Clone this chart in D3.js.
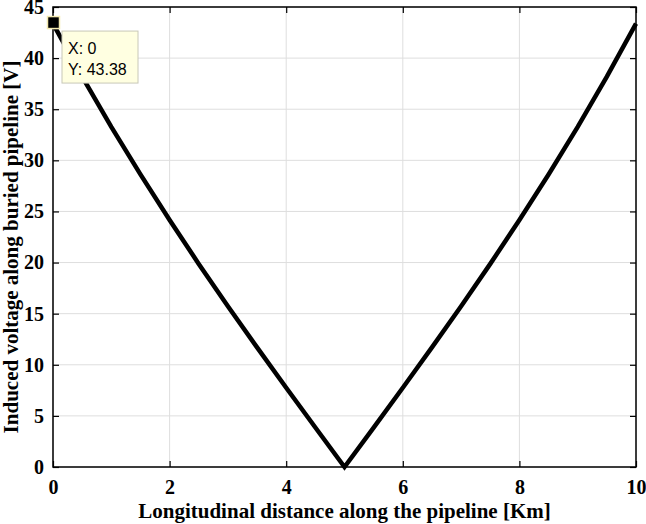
<!DOCTYPE html>
<html>
<head>
<meta charset="utf-8">
<script src="https://cdn.jsdelivr.net/npm/d3@7"></script>
<style>
  body { margin: 0; background: #fff; }
  svg { display: block; }
</style>
</head>
<body>
<div id="chart"></div>
<script>
// distance along pipeline [km] and induced voltage [V]
var distance = [0, 0.5, 1, 1.5, 2, 2.5, 3, 3.5, 4, 4.5, 5, 5.5, 6, 6.5, 7, 7.5, 8, 8.5, 9, 9.5, 10];
var voltage = [43.38, 38.19, 33.28, 28.62, 24.16, 19.87, 15.73, 11.70, 7.75, 3.86, 0,
  3.86, 7.75, 11.70, 15.73, 19.87, 24.16, 28.62, 33.28, 38.19, 43.38];
var xTicks = [0, 2, 4, 6, 8, 10];
var yTicks = [0, 5, 10, 15, 20, 25, 30, 35, 40, 45];
var tip = { x: 0, y: 43.38 };

var W = 646, H = 524;
var margin = { top: 7, right: 10, bottom: 57, left: 53 };
var iw = W - margin.left - margin.right;
var ih = H - margin.top - margin.bottom;

var svg = d3.select("#chart").append("svg")
  .attr("width", W).attr("height", H);

var g = svg.append("g")
  .attr("transform", "translate(" + margin.left + "," + margin.top + ")");

var x = d3.scaleLinear().domain([0, 10]).range([0, iw]);
var y = d3.scaleLinear().domain([0, 45]).range([ih, 0]);

// grid
g.append("g").selectAll("line").data(xTicks).enter().append("line")
  .attr("x1", d => x(d)).attr("x2", d => x(d))
  .attr("y1", 0).attr("y2", ih)
  .attr("stroke", "#dedede").attr("stroke-width", 1);
g.append("g").selectAll("line").data(yTicks).enter().append("line")
  .attr("x1", 0).attr("x2", iw)
  .attr("y1", d => y(d)).attr("y2", d => y(d))
  .attr("stroke", "#dedede").attr("stroke-width", 1);

// axes, ticks inward
var tickFont = function (sel) {
  sel.selectAll("text")
    .style("font-family", "'Liberation Serif', 'Times New Roman', serif")
    .style("font-weight", "bold")
    .style("font-size", "20px")
    .attr("fill", "#000");
  sel.selectAll("line").attr("stroke", "#000").attr("stroke-width", 1.2);
  sel.select(".domain").remove();
};

g.append("g").attr("transform", "translate(0," + ih + ")")
  .call(d3.axisBottom(x).tickValues(xTicks).tickSizeInner(-6).tickSizeOuter(0).tickPadding(13))
  .call(tickFont);
g.append("g")
  .call(d3.axisTop(x).tickValues(xTicks).tickSizeInner(-6).tickSizeOuter(0).tickFormat(""))
  .call(tickFont);
g.append("g")
  .call(d3.axisLeft(y).tickValues(yTicks).tickSizeInner(-6).tickSizeOuter(0).tickPadding(9))
  .call(tickFont);
g.append("g").attr("transform", "translate(" + iw + ",0)")
  .call(d3.axisRight(y).tickValues(yTicks).tickSizeInner(-6).tickSizeOuter(0).tickFormat(""))
  .call(tickFont);

// box
g.append("rect").attr("width", iw).attr("height", ih)
  .attr("fill", "none").attr("stroke", "#000").attr("stroke-width", 1.5);

// curve
var line = d3.line().x((d, i) => x(distance[i])).y(d => y(d));
g.append("path").datum(voltage)
  .attr("d", line)
  .attr("fill", "none").attr("stroke", "#000")
  .attr("stroke-width", 4.5).attr("stroke-linejoin", "miter");

// data tip
var tx = x(tip.x), ty = y(tip.y);
g.append("rect")
  .attr("x", tx - 5.5).attr("y", ty - 7).attr("width", 12).attr("height", 12)
  .attr("fill", "#000").attr("stroke", "#f3e9b0").attr("stroke-width", 1.5);
var box = g.append("g").attr("transform", "translate(" + (tx + 9) + "," + (ty + 7.5) + ")");
box.append("rect").attr("width", 76).attr("height", 52)
  .attr("fill", "#ffffe1").attr("stroke", "#c8c8b8").attr("stroke-width", 1);
box.append("text").attr("x", 6).attr("y", 23).text("X: " + tip.x)
  .style("font-family", "'Liberation Sans', Arial, sans-serif").style("font-size", "16px");
box.append("text").attr("x", 6).attr("y", 44).text("Y: " + tip.y.toFixed(2))
  .style("font-family", "'Liberation Sans', Arial, sans-serif").style("font-size", "16px");

// axis titles
svg.append("text")
  .attr("x", margin.left + iw / 2).attr("y", 518)
  .attr("text-anchor", "middle")
  .style("font-family", "'Liberation Serif', 'Times New Roman', serif")
  .style("font-weight", "bold").style("font-size", "21px")
  .text("Longitudinal distance along the pipeline [Km]");
svg.append("text")
  .attr("transform", "translate(18," + (margin.top + ih / 2 + 10) + ") rotate(-90)")
  .attr("text-anchor", "middle")
  .style("font-family", "'Liberation Serif', 'Times New Roman', serif")
  .style("font-weight", "bold").style("font-size", "21px")
  .text("Induced voltage along buried pipeline [V]");
</script>
</body>
</html>
